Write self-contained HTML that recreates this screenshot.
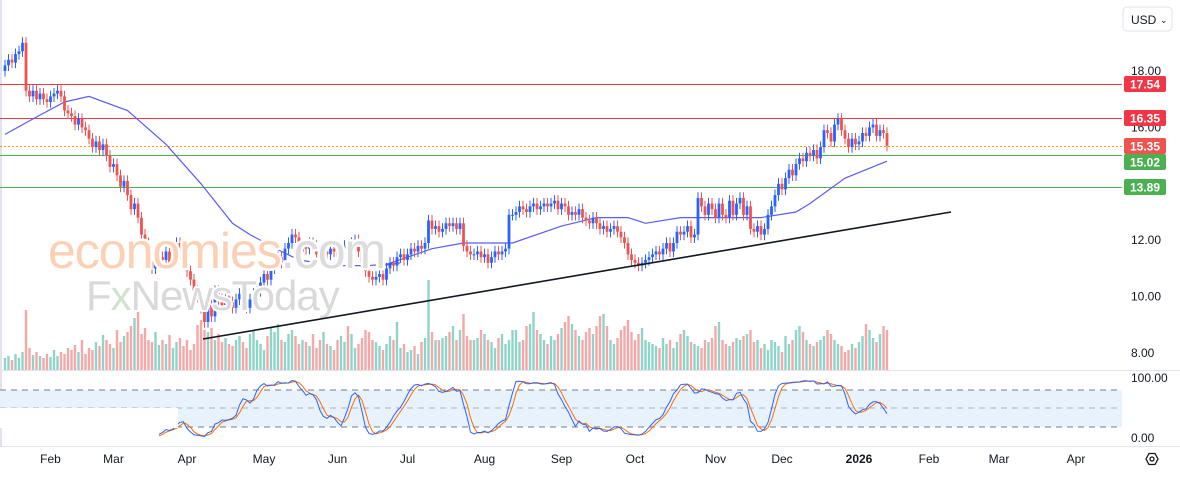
<!DOCTYPE html>
<html><head><meta charset="utf-8">
<style>
html,body{margin:0;padding:0;background:#fff;}
body{width:1180px;height:476px;overflow:hidden;font-family:"Liberation Sans",sans-serif;}
svg text{font-family:"Liberation Sans",sans-serif;}
</style></head>
<body>
<svg id="chart" width="1180" height="476" viewBox="0 0 1180 476" xmlns="http://www.w3.org/2000/svg">
  <rect x="0" y="0" width="1180" height="476" fill="#fff"/>
  <rect x="0" y="0" width="2" height="446" fill="#e0e3eb"/>
  <g id="stoch-band">
    <rect x="0" y="390" width="1122" height="37" fill="#e8f2fd"/>
    <line x1="0" y1="390" x2="1122" y2="390" stroke="#787b86" stroke-dasharray="6,5"/>
    <line x1="0" y1="408" x2="1122" y2="408" stroke="#b0b3bb" stroke-dasharray="6,5"/>
    <line x1="0" y1="427" x2="1122" y2="427" stroke="#787b86" stroke-dasharray="6,5"/>
  </g>
  <line x1="0" y1="370.5" x2="1180" y2="370.5" stroke="#e0e3eb"/>
  <line x1="0" y1="446.5" x2="1180" y2="446.5" stroke="#e0e3eb"/>
  <g id="vol"></g>
  <g id="levels"></g>
  <g id="ma"></g>
  <g id="candles"></g>
  <g id="stoch"></g>
  <rect x="0" y="408" width="178" height="20" fill="#fff"/>
  <g>
    <text x="48" y="268" font-size="50" fill="#fcd0b4" stroke="#fff" stroke-width="5" paint-order="stroke" stroke-linejoin="round" letter-spacing="-1">economies<tspan fill="#dcdcdc">.com</tspan></text>
    <text x="86" y="310" font-size="42" fill="#d9d9d9" stroke="#fff" stroke-width="4" paint-order="stroke" stroke-linejoin="round" letter-spacing="-1">F<tspan fill="#cfe3cf">x</tspan>NewsToday</text>
  </g>
  <line id="trend" x1="203" y1="339" x2="951" y2="212" stroke="#131722" stroke-width="1.6"/>
  <g id="yaxis"></g>
  <g id="labels"></g>
  <g id="xaxis"></g>
  <g>
    <rect x="1123" y="7" width="49" height="24" rx="4" fill="#fff" stroke="#e0e3eb"/>
    <text x="1131" y="24" font-size="12" fill="#131722">USD</text>
    <text x="1160" y="23" font-size="9" fill="#131722">⌄</text>
  </g>
  <g>
    <polygon points="1146,459 1149,453.5 1155,453.5 1158,459 1155,464.5 1149,464.5" fill="none" stroke="#131722" stroke-width="1.3"/>
    <circle cx="1152" cy="459" r="2" fill="none" stroke="#131722" stroke-width="1.3"/>
  </g>
</svg>
<script>
const closes=[18.2,18.4,18.3,18.6,18.7,19.0,17.3,17.1,17.3,17.0,17.2,17.0,16.9,17.1,17.2,17.3,17.1,16.6,16.5,16.4,16.1,16.3,16.0,15.9,15.6,15.3,15.5,15.2,15.4,15.0,14.6,14.7,14.3,13.9,14.1,13.6,13.1,13.3,12.8,12.2,11.9,11.3,11.0,11.2,11.4,11.3,11.6,11.2,11.4,11.9,11.5,11.3,10.9,10.6,10.2,10.0,9.6,9.1,9.7,9.3,10.2,9.9,9.7,10.0,9.8,9.6,9.9,10.1,9.8,9.6,9.9,10.1,10.2,10.5,10.8,10.6,11.0,11.3,11.4,11.2,11.7,11.9,12.2,12.1,11.6,11.8,11.7,11.9,11.8,11.5,11.4,11.6,11.5,11.7,11.6,11.4,11.5,11.8,11.7,11.9,12.0,11.6,11.2,10.9,10.7,10.6,10.7,10.8,10.6,11.0,11.2,11.1,11.4,11.5,11.3,11.5,11.7,11.6,11.8,11.7,11.9,12.7,12.4,12.5,12.3,12.4,12.6,12.5,12.6,12.4,12.6,11.8,11.6,11.5,11.5,11.6,11.4,11.5,11.2,11.4,11.6,11.5,11.6,11.7,12.9,12.9,13.0,13.2,13.1,13.0,13.2,13.3,13.1,13.2,13.3,13.2,13.3,13.4,13.1,13.3,13.2,12.9,13.0,12.9,13.1,12.8,12.7,12.6,12.8,12.6,12.4,12.5,12.3,12.4,12.5,12.3,12.1,11.9,11.5,11.3,11.2,11.1,11.2,11.3,11.4,11.5,11.6,11.5,11.7,11.9,11.6,11.9,12.3,12.2,12.3,12.5,12.1,12.2,13.5,13.2,12.9,13.3,13.1,12.8,13.3,12.9,12.8,13.4,12.9,13.3,13.5,12.9,13.2,12.4,12.3,12.5,12.2,12.4,12.9,13.2,13.6,14.0,13.8,14.2,14.5,14.3,14.7,14.9,14.8,15.1,15.0,15.2,14.9,15.3,15.9,15.8,15.5,16.1,16.3,15.9,15.6,15.3,15.6,15.4,15.5,15.8,15.7,16.0,16.1,15.7,15.9,15.8,15.35];
const volumes=[12,14,10,16,12,18,60,22,15,18,14,12,16,13,20,14,18,16,22,20,25,18,30,16,22,20,28,24,35,30,26,22,40,28,34,38,44,52,60,36,42,30,28,38,25,30,26,35,22,28,32,24,30,20,26,45,50,40,38,42,30,36,28,32,26,24,30,34,28,22,36,40,30,26,20,34,42,38,46,30,28,36,40,34,26,30,28,24,36,22,30,38,26,24,20,30,34,28,44,36,22,26,32,40,38,30,28,24,20,26,34,30,48,22,26,18,20,24,16,28,32,90,38,30,30,32,34,38,44,30,40,56,34,30,30,32,40,36,30,28,22,32,36,26,30,40,40,28,30,44,46,58,40,36,30,26,34,30,36,42,48,54,46,40,34,30,38,42,36,44,54,56,44,30,26,32,40,44,50,38,30,36,42,30,28,26,24,22,32,26,30,22,28,36,40,34,28,26,24,22,30,28,32,44,48,30,26,24,28,32,30,34,36,40,28,30,22,26,20,30,28,24,18,34,26,30,40,44,38,30,26,24,28,30,34,40,36,30,26,24,18,20,26,22,28,34,46,40,32,28,36,44,40,30];
const maIdx=[0,8,17,24,35,46,56,65,70,79,84,94,104,113,108,122,131,145,159,169,178,183,193,202,216,226,230,240,252];
const maVal=[15.75,16.3,16.9,17.1,16.6,15.4,14.0,12.6,12.2,11.6,11.3,11.1,11.1,11.2,11.1,11.7,11.9,11.9,12.5,12.8,12.8,12.6,12.8,12.8,12.8,13.0,13.3,14.2,14.8];
const levelVals=[17.54,16.35,15.35,15.02,13.89];
const levelColors=['#f23645','#f23645','#ef5350','#4caf50','#4caf50'];
const priceTicks=[18,16,12,10,8];
const monthLabels=['Feb','Mar','Apr','May','Jun','Jul','Aug','Sep','Oct','Nov','Dec','2026','Feb','Mar','Apr'];
const monthIdx=[13,31,52,74,95,115,137,159,180,203,222,244,264,284,306];

const NS='http://www.w3.org/2000/svg';
const X=i=>5+i*3.5;
const Y=p=>71+(18-p)*28.2;
const VY=v=>370-v;
const SY=s=>439.3-s*0.617;
function mk(tag,attrs,parent){const e=document.createElementNS(NS,tag);for(const k in attrs)e.setAttribute(k,attrs[k]);parent.appendChild(e);return e;}
const gC=document.getElementById('candles'),gV=document.getElementById('vol'),gL=document.getElementById('levels'),gM=document.getElementById('ma'),gS=document.getElementById('stoch'),gY=document.getElementById('yaxis'),gB=document.getElementById('labels'),gX=document.getElementById('xaxis');

const opens=closes.map((c,i)=>i===0?c-0.2:closes[i-1]);
for(let i=0;i<closes.length;i++){
  const o=opens[i],c=closes[i],up=c>=o,col=up?'#2962ff':'#ef5350';
  const hi=Math.max(o,c)+0.2,lo=Math.min(o,c)-0.2,x=X(i);
  const g=mk('g',{},gC);
  
  
  mk('line',{x1:x,x2:x,y1:Y(hi),y2:Y(lo),stroke:col,'stroke-width':1},g);
  const t=Math.min(Y(o),Y(c));
  mk('rect',{x:x-1.4,y:t,width:2.8,height:Math.max(1,Math.abs(Y(o)-Y(c))),fill:col},g);
  const vb=mk('rect',{x:x-1.2,y:VY(volumes[i]),width:2.4,height:volumes[i],fill:up?'#8fd3c9':'#f5a8a7'},gV);
  
  
}
let d='';maIdx.forEach((k,j)=>{d+=(j?'L':'M')+X(k).toFixed(1)+','+Y(maVal[j]).toFixed(1);});
const maP=mk('path',{d:d,fill:'none',stroke:'#5b5bf5','stroke-width':1.2},gM);


levelVals.forEach((v,j)=>{
  const y=Math.round(Y(v))+0.5;
  const l=mk('line',{x1:0,x2:1122,y1:y,y2:y,stroke:j===2?'#ff9800':levelColors[j],'stroke-width':1,'stroke-dasharray':j===2?'2,2':'none'},gL);
  
  
});
priceTicks.forEach(p=>{
  const t=mk('text',{x:1131,y:Y(p)+4,'font-size':12,fill:'#131722'},gY);
  t.textContent=p.toFixed(2);
  
  
});
[[100,'100.00',382],[0,'0.00',442]].forEach(a=>{
  const t=mk('text',{x:1131,y:a[2],'font-size':12,fill:'#131722'},gY);t.textContent=a[1];
  
  
});
const labelY=[84,118,146,162,187];
levelVals.forEach((v,j)=>{
  const g=mk('g',{},gB);
  
  
  mk('rect',{x:1124,y:labelY[j]-8,width:42,height:16,rx:2,fill:levelColors[j]},g);
  const t=mk('text',{x:1145,y:labelY[j]+4.5,'font-size':12,fill:'#fff','text-anchor':'middle','font-weight':'bold'},g);
  t.textContent=v.toFixed(2);
});
monthLabels.forEach((m,j)=>{
  const t=mk('text',{x:X(monthIdx[j]),y:463,'font-size':12,fill:'#131722','text-anchor':'middle','font-weight':m==='2026'?'bold':'normal'},gX);
  t.textContent=m;
  
  
});
const K=[],Dd=[];
const raw=closes.map((c,i)=>{const s=Math.max(0,i-13);const w=closes.slice(s,i+1);const hi=Math.max(...w)+0.12,lo=Math.min(...w)-0.12;return 100*(c-lo)/(hi-lo);});
raw.forEach((r,i)=>{const w=raw.slice(Math.max(0,i-2),i+1);K.push(w.reduce((a,b)=>a+b,0)/w.length);});
K.forEach((r,i)=>{const w=K.slice(Math.max(0,i-2),i+1);Dd.push(w.reduce((a,b)=>a+b,0)/w.length);});
const stochStart=44;
function pl(arr,col,name){let s='';let first=true;arr.forEach((v,i)=>{if(i<stochStart)return;s+=(first?'M':'L')+X(i).toFixed(1)+','+SY(v).toFixed(1);first=false;});const p=mk('path',{d:s,fill:'none',stroke:col,'stroke-width':1},gS);}
pl(Dd,'#ff6d00','stochastic-d-line');
pl(K,'#2962ff','stochastic-k-line');
</script>
</body></html>
